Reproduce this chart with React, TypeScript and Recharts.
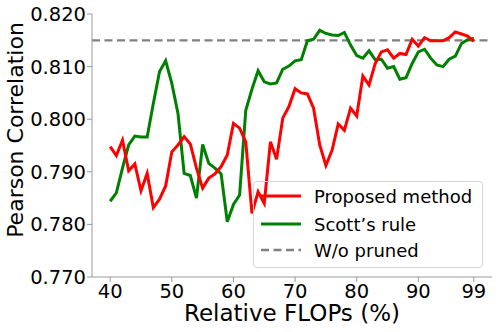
import { LineChart, Line, XAxis, YAxis, ReferenceLine } from 'recharts';

const flops = [
  40, 41, 42, 43, 44, 45, 46, 47, 48, 49,
  50, 51, 52, 53, 54, 55, 56, 57, 58, 59,
  60, 61, 62, 63, 64, 65, 66, 67, 68, 69,
  70, 71, 72, 73, 74, 75, 76, 77, 78, 79,
  80, 81, 82, 83, 84, 85, 86, 87, 88, 89,
  90, 91, 92, 93, 94, 95, 96, 97, 98, 99,
];

const proposed = [
  0.7948, 0.7931, 0.7960, 0.7902, 0.7915, 0.7864, 0.7897, 0.7832, 0.7848, 0.7873,
  0.7938, 0.7951, 0.7967, 0.7953, 0.7907, 0.7869, 0.7888, 0.7896, 0.7910, 0.7932,
  0.7992, 0.7983, 0.7957, 0.7821, 0.7862, 0.7840, 0.7957, 0.7924, 0.8002, 0.8024,
  0.8058, 0.8050, 0.8048, 0.8021, 0.7951, 0.7912, 0.7941, 0.7991, 0.7979, 0.8021,
  0.8006, 0.8082, 0.8065, 0.8106, 0.8128, 0.8132, 0.8116, 0.8125, 0.8123, 0.8152,
  0.8139, 0.8155, 0.8149, 0.8149, 0.8149, 0.8155, 0.8166, 0.8162, 0.8158, 0.8148,
];

const scott = [
  0.7844, 0.7860, 0.7907, 0.7951, 0.7968, 0.7966, 0.7966, 0.8030, 0.8090, 0.8111,
  0.8068, 0.8011, 0.7897, 0.7893, 0.7850, 0.7952, 0.7916, 0.7907, 0.7896, 0.7805,
  0.7838, 0.7856, 0.8017, 0.8057, 0.8092, 0.8071, 0.8067, 0.8069, 0.8095, 0.8101,
  0.8111, 0.8113, 0.8149, 0.8152, 0.8169, 0.8163, 0.8160, 0.8159, 0.8165, 0.8141,
  0.8121, 0.8116, 0.8130, 0.8113, 0.8114, 0.8097, 0.8100, 0.8076, 0.8079, 0.8106,
  0.8128, 0.8133, 0.8116, 0.8103, 0.8100, 0.8114, 0.8120, 0.8144, 0.8151, 0.8154,
];

const unpruned = 0.815;

const xTicks = [40, 50, 60, 70, 80, 90, 99];
const yTicks = [0.77, 0.78, 0.79, 0.8, 0.81, 0.82];

const seriesNames = ['Proposed method', 'Scott\u2019s rule', 'W/o pruned'];

const data = flops.map((f, i) => ({ flops: f, proposed: proposed[i], scott: scott[i] }));

const FONT = '"DejaVu Sans", sans-serif';
const SPINE = '#9a9a9a';

const xLabel = () => (
  <text x={292} y={321} textAnchor="middle" fontSize={23} fontFamily={FONT} fill="#000">
    Relative FLOPs (%)
  </text>
);

const yLabel = () => (
  <text x={23} y={130} transform="rotate(-90 23 130)" textAnchor="middle" fontSize={22} fontFamily={FONT} fill="#000">
    Pearson Correlation
  </text>
);

const LegendRow = ({ top, color, dash, label }: { top: number; color: string; dash?: string; label: string }) => (
  <div style={{ position: 'absolute', left: 6, top, height: 26, display: 'flex', alignItems: 'center' }}>
    <svg width={42} height={6} style={{ marginRight: 12 }}>
      <line x1={1} y1={3} x2={41} y2={3} stroke={color} strokeWidth={dash ? 2.4 : 3} strokeDasharray={dash} />
    </svg>
    <span style={{ fontFamily: FONT, fontSize: 18, color: '#000', whiteSpace: 'nowrap' }}>{label}</span>
  </div>
);

export default function App() {
  return (
    <div style={{ position: 'absolute', left: 0, top: 0, width: 498, height: 332, background: '#fff' }}>
      <LineChart width={498} height={332} data={data} margin={{ top: 14, right: 6, left: 0, bottom: 0 }}>
        <XAxis
          dataKey="flops"
          type="number"
          domain={[37.05, 101.95]}
          ticks={xTicks}
          allowDataOverflow
          height={55}
          tickSize={5}
          tickMargin={2}
          stroke={SPINE}
          tick={{ fill: '#000', fontSize: 19.5, fontFamily: FONT }}
          label={xLabel}
        />
        <XAxis xAxisId="top" dataKey="flops" type="number" domain={[37.05, 101.95]} orientation="top" height={0} tick={false} tickLine={false} stroke={SPINE} />
        <YAxis
          type="number"
          domain={[0.77, 0.82]}
          ticks={yTicks}
          allowDataOverflow
          width={92}
          tickSize={5}
          tickMargin={1}
          stroke={SPINE}
          tickFormatter={(v: number) => v.toFixed(3)}
          tick={{ fill: '#000', fontSize: 19.5, fontFamily: FONT }}
          label={yLabel}
        />
        <YAxis yAxisId="right" type="number" domain={[0.77, 0.82]} orientation="right" width={0} tick={false} tickLine={false} stroke={SPINE} />
        <ReferenceLine y={unpruned} stroke="#808080" strokeWidth={2.2} strokeDasharray="8 4.5" />
        <Line type="linear" dataKey="scott" stroke="#008000" strokeWidth={3} dot={false} isAnimationActive={false} />
        <Line type="linear" dataKey="proposed" stroke="#ff0000" strokeWidth={3} dot={false} isAnimationActive={false} />
      </LineChart>
      <div
        style={{
          position: 'absolute',
          left: 253,
          top: 181,
          width: 228,
          height: 85,
          border: '1px solid #d6d6d6',
          borderRadius: 4,
        }}
      >
        <LegendRow top={1} color="#ff0000" label={seriesNames[0]} />
        <LegendRow top={29} color="#008000" label={seriesNames[1]} />
        <LegendRow top={55} color="#808080" dash="8 4.5" label={seriesNames[2]} />
      </div>
    </div>
  );
}
